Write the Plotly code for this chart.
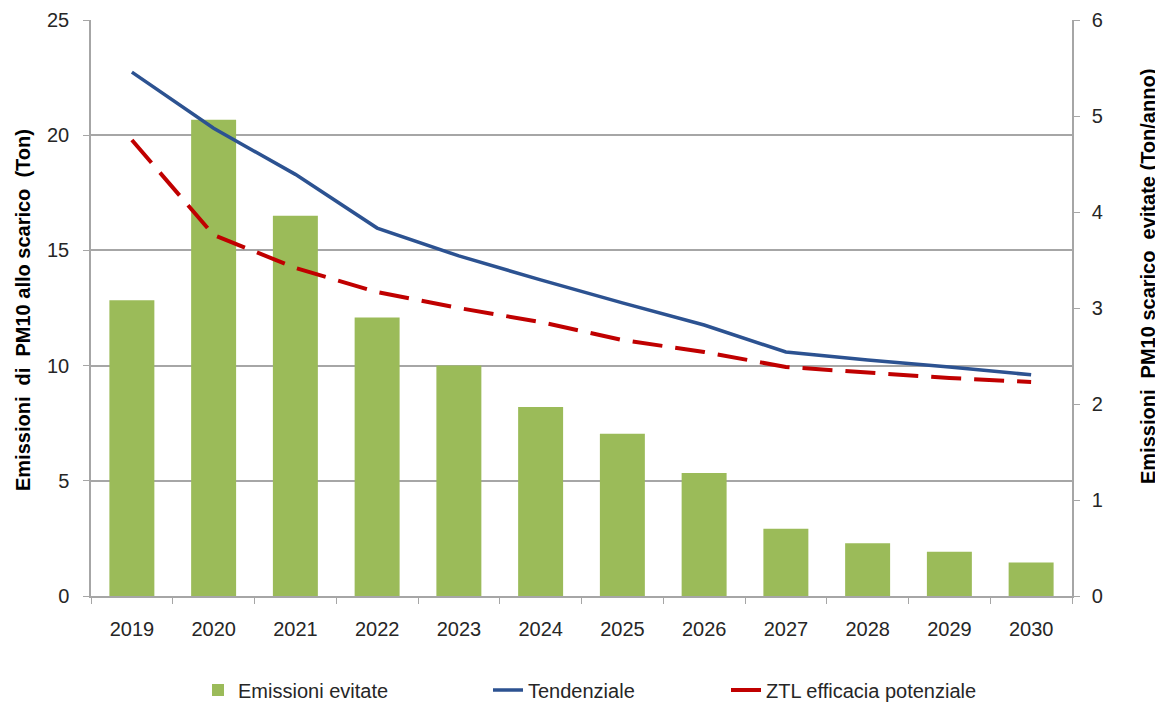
import plotly.graph_objects as go

years = ["2019", "2020", "2021", "2022", "2023", "2024", "2025", "2026", "2027", "2028", "2029", "2030"]
evitate = [3.08, 4.96, 3.96, 2.90, 2.40, 1.97, 1.69, 1.28, 0.70, 0.55, 0.46, 0.35]
tendenziale = [22.74, 20.3, 18.3, 15.97, 14.76, 13.72, 12.72, 11.76, 10.59, 10.24, 9.94, 9.6]
ztl = [19.79, 15.67, 14.24, 13.19, 12.5, 11.89, 11.11, 10.59, 9.94, 9.72, 9.46, 9.29]

FONT = "Liberation Sans"
GRID = "#A6A6A6"

fig = go.Figure()
fig.add_trace(go.Bar(x=years, y=evitate, name="Emissioni evitate", marker_color="#9BBB59",
                     marker_line_width=0, yaxis="y", width=0.55, legend="legend",
                     showlegend=True))
fig.add_trace(go.Scatter(x=years, y=tendenziale, name="Tendenziale", mode="lines",
                         line=dict(color="#2C5291", width=3.5), yaxis="y2", legend="legend2",
                         showlegend=True))
fig.add_trace(go.Scatter(x=years, y=ztl, name="ZTL efficacia potenziale", mode="lines",
                         line=dict(color="#C00000", width=4, dash="30px,13px"), yaxis="y2",
                         legend="legend3", showlegend=True))

# plot area in figure px: x 83..1064 (981 wide), y 12..588 (576 tall)
def px_x(v):
    return (v - 83) / 981.0

def px_y(v):
    return (588 - v) / 576.0

leg_common = dict(orientation="h", yref="container", y=0.03, yanchor="middle",
                  xanchor="left", font=dict(size=20), bgcolor="rgba(0,0,0,0)")

fig.update_layout(
    width=1163, height=703,
    showlegend=True,
    margin=dict(l=83, r=99, t=12, b=115),
    plot_bgcolor="white", paper_bgcolor="white",
    font=dict(family=FONT, size=20, color="#262626"),
    xaxis=dict(type="category", showline=True, linecolor=GRID, linewidth=1.5,
               ticks="outside", tickson="boundaries", ticklen=6, tickcolor=GRID,
               showgrid=False, tickfont=dict(size=20), automargin=False,
               ticklabelstandoff=14),
    yaxis=dict(side="right", range=[0, 6], dtick=1, showgrid=False, showline=True,
               linecolor=GRID, linewidth=1.5, ticks="outside", ticklen=6, tickcolor=GRID,
               tickfont=dict(size=20), zeroline=False, automargin=False,
               ticklabelstandoff=8),
    yaxis2=dict(side="left", overlaying="y", range=[0, 25], dtick=5, showgrid=True,
                gridcolor=GRID, gridwidth=1.5, showline=True, linecolor=GRID, linewidth=1.5,
                ticks="outside", ticklen=6, tickcolor=GRID, zeroline=False,
                tickfont=dict(size=20), automargin=False, ticklabelstandoff=10),
    legend=dict(leg_common, x=px_x(190)),
    legend2=dict(leg_common, x=px_x(480)),
    legend3=dict(leg_common, x=px_x(718)),
    annotations=[
        dict(text="<b>Emissioni  di  PM10 allo scarico  (Ton)</b>", textangle=-90,
             xref="paper", yref="paper", x=px_x(15), y=px_y(302),
             xanchor="center", yanchor="middle", showarrow=False,
             font=dict(size=20, color="#000")),
        dict(text="<b>Emissioni  PM10 scarico  evitate (Ton/anno)</b>", textangle=-90,
             xref="paper", yref="paper", x=px_x(1140), y=px_y(269),
             xanchor="center", yanchor="middle", showarrow=False,
             font=dict(size=20, color="#000")),
    ],
)

fig.write_html("out.html")
